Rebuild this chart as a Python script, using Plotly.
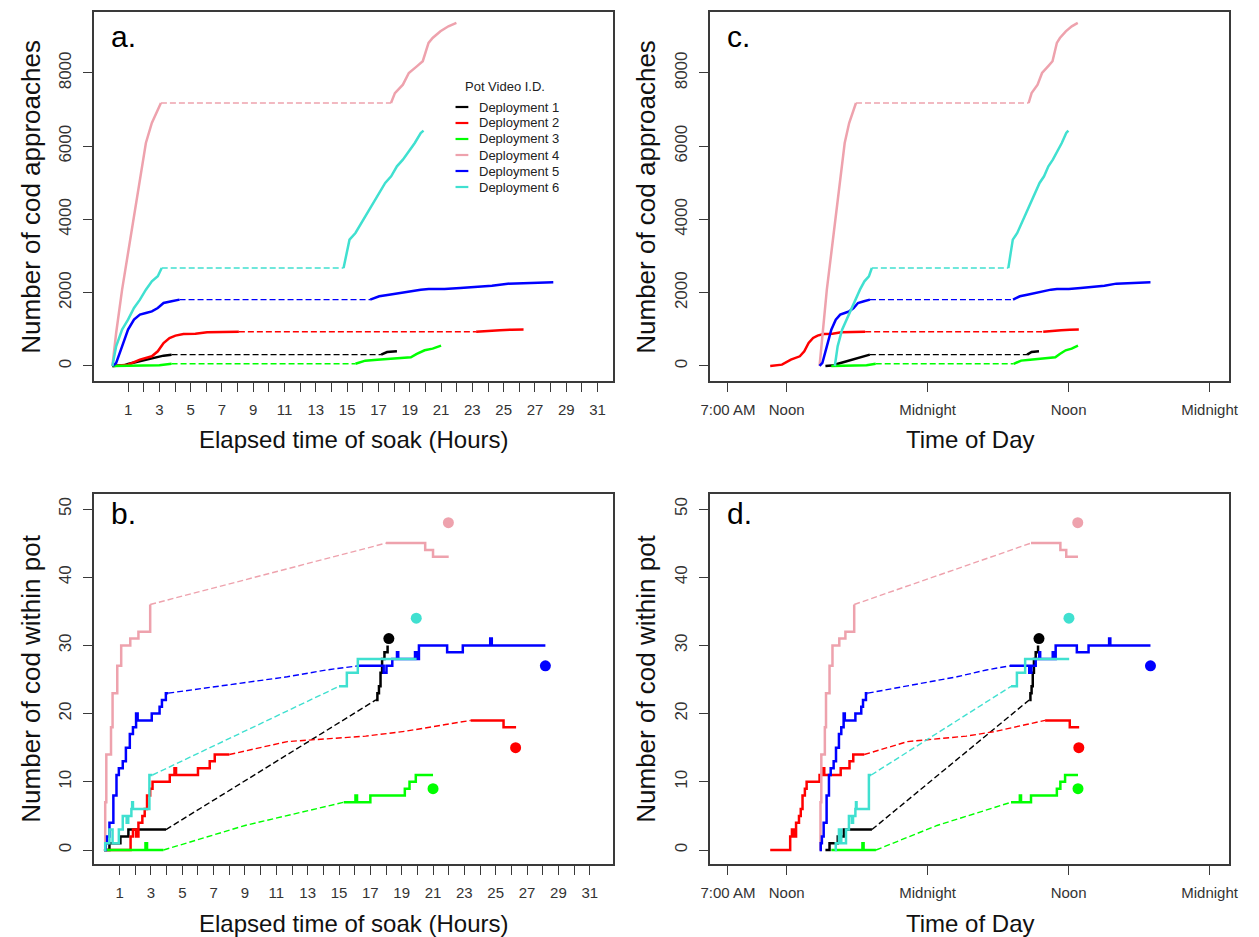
from plotly.subplots import make_subplots
import plotly.graph_objects as go

# deployments
names = ['Deployment 1', 'Deployment 2', 'Deployment 3', 'Deployment 4', 'Deployment 5', 'Deployment 6']
colors = ['#000000', '#FF0000', '#00FF00', '#EEA2AD', '#0000FF', '#40E0D0']
start_hour = [15.3, 10.6, 15.8, 14.8, 14.8, 16.1]   # time of day the pot was set (hours after midnight)

# cumulative cod approaches (elapsed hours, count); gap = dark period drawn dashed
app_h1 = [0, 0.8, 1.0, 1.76, 2.27, 2.77, 3.27, 3.78, 17.17, 17.55, 18.18]
app_v1 = [0, 20, 55, 127, 173, 218, 282, 309, 309, 382, 400]
app_gap1 = [3.78, 17.17]

app_h2 = [0, 0.75, 1.0, 1.76, 2.14, 2.52, 2.9, 3.27, 3.65, 4.03, 4.54, 5.3, 6.05, 7.07, 8.08, 23.24, 24.0, 24.76, 25.51, 26.27]
app_v2 = [0, 20, 36, 173, 218, 264, 400, 628, 764, 828, 874, 880, 919, 930, 935, 935, 946, 974, 992, 995]
app_gap2 = [8.08, 23.24]

app_h3 = [0, 3.0, 3.78, 15.53, 16.16, 16.92, 17.68, 18.31, 19.07, 19.45, 19.95, 20.46, 21.0]
app_v3 = [0, 20, 60, 60, 146, 173, 191, 200, 237, 328, 428, 473, 555]
app_gap3 = [3.78, 15.53]

app_h4 = [0, 0.24, 0.62, 1.0, 1.38, 1.76, 2.14, 2.52, 2.9, 3.1, 17.8, 18.05, 18.56, 18.94, 19.45, 19.83, 20.2, 20.46, 20.96, 21.47, 21.98]
app_v4 = [0, 900, 2084, 3085, 4086, 4996, 6088, 6634, 6998, 7180, 7180, 7450, 7680, 8000, 8180, 8320, 8820, 8955, 9137, 9274, 9365]
app_gap4 = [3.1, 17.8]

app_h5 = [0, 0.24, 0.62, 1.0, 1.38, 1.76, 2.14, 2.52, 2.9, 3.27, 3.78, 4.29, 16.47, 17.05, 17.68, 18.31, 18.94, 19.7, 20.21, 21.22, 22.23, 23.24, 24.25, 25.26, 26.27, 27.03, 28.17]
app_v5 = [0, 82, 537, 992, 1265, 1401, 1447, 1492, 1583, 1720, 1765, 1811, 1811, 1902, 1947, 1993, 2038, 2084, 2102, 2102, 2129, 2157, 2193, 2248, 2266, 2284, 2284]
app_gap5 = [4.29, 16.47]

app_h6 = [0, 0.24, 0.62, 1.0, 1.38, 1.76, 2.14, 2.52, 2.9, 3.15, 14.77, 15.15, 15.53, 15.91, 16.29, 16.67, 17.05, 17.43, 17.81, 18.18, 18.56, 18.94, 19.32, 19.7, 19.88]
app_v6 = [0, 537, 992, 1265, 1583, 1811, 2084, 2311, 2448, 2675, 2675, 3449, 3631, 3904, 4177, 4450, 4723, 4996, 5178, 5451, 5633, 5860, 6088, 6361, 6425]
app_gap6 = [3.15, 14.77]

# number of cod inside the pot (elapsed hours, count)
pot_h1 = [0, 0.35, 1.05, 1.56, 3.96, 17.35, 17.45, 17.55, 17.65, 17.75, 17.9, 18.1]
pot_v1 = [0, 1, 2, 3, 3, 22, 23, 24, 26, 28, 29, 30]
pot_gap1 = [3.96, 17.35]

pot_h2 = [0, 1.7, 1.85, 2.05, 2.2, 2.45, 2.6, 2.75, 2.95, 3.1, 4.2, 4.5, 4.6, 6.0, 6.75, 7.07, 8.0, 11.7, 16.7, 19.2, 21.8, 23.4, 25.5, 26.3]
pot_v2 = [0, 2, 3, 2, 4, 5, 6, 8, 9, 10, 11, 12, 11, 12, 13, 14, 14, 15.9, 16.7, 17.4, 18.4, 19, 18, 18]
pot_gap2 = [8.0, 23.4]

pot_h3 = [0, 2.65, 2.75, 3.8, 9.0, 15.3, 16.05, 16.15, 17.0, 19.2, 19.5, 19.9, 21.0]
pot_v3 = [0, 1, 0, 0, 3.6, 7, 8, 7, 8, 9, 10, 11, 11]
pot_gap3 = [3.8, 15.3]

pot_h4 = [0, 0.08, 0.15, 0.45, 0.55, 0.85, 1.1, 1.68, 2.2, 2.95, 18.0, 20.5, 21.0, 22.0]
pot_v4 = [0, 7, 14, 18, 23, 27, 30, 31, 32, 36, 45, 44, 43, 43]
pot_gap4 = [2.95, 18.0]

pot_h5 = [0, 0.1, 0.2, 0.35, 0.6, 0.8, 0.95, 1.2, 1.4, 1.65, 1.85, 2.05, 2.15, 3.05, 3.55, 3.7, 3.95, 4.1, 7.9, 11.7, 14.2,
          16.2, 17.85, 18.03, 18.4, 18.7, 18.78, 19.85, 19.95, 20.1, 21.9, 22.9, 24.65, 24.75, 28.17]
pot_v5 = [0, 1, 2, 4, 8, 11, 12, 13, 15, 17, 18, 20, 19, 20, 21, 22, 23, 23, 24.2, 25.4, 26.4,
          27, 26, 27, 28, 29, 28, 29, 28, 30, 29, 30, 31, 30, 30]
pot_gap5 = [4.1, 16.2]

pot_h6 = [0, 0.08, 0.35, 0.55, 0.95, 1.2, 1.45, 1.55, 1.75, 1.8, 1.85, 2.9, 3.1, 15.0, 15.5, 16.2, 19.95]
pot_v6 = [0, 1, 3, 1, 3, 5, 4, 5, 6, 7, 6, 11, 11, 24, 26, 28, 28]
pot_gap6 = [3.1, 15.0]

# count of cod in the pot at haul
haul_h = [18.18, 26.27, 21.0, 21.98, 28.17, 19.93]
haul_n = [31, 15, 9, 48, 27, 34]

app_h = [app_h1, app_h2, app_h3, app_h4, app_h5, app_h6]
app_v = [app_v1, app_v2, app_v3, app_v4, app_v5, app_v6]
app_gap = [app_gap1, app_gap2, app_gap3, app_gap4, app_gap5, app_gap6]
pot_h = [pot_h1, pot_h2, pot_h3, pot_h4, pot_h5, pot_h6]
pot_v = [pot_v1, pot_v2, pot_v3, pot_v4, pot_v5, pot_v6]
pot_gap = [pot_gap1, pot_gap2, pot_gap3, pot_gap4, pot_gap5, pot_gap6]

hour_ticks = list(range(1, 32))
hour_text = [str(h) if h % 2 == 1 else '' for h in hour_ticks]
day_ticks = [7, 12, 24, 36, 48]
day_text = ['7:00 AM', 'Noon', 'Midnight', 'Noon', 'Midnight']

FONT = 'Liberation Sans, Arial, sans-serif'
W, H = 1259, 937

fig = make_subplots(rows=2, cols=2, horizontal_spacing=0.05, vertical_spacing=0.05)


def pieces(h, v, gap):
    pre = [(a, b) for a, b in zip(h, v) if a <= gap[0]]
    mid = [(a, b) for a, b in zip(h, v) if gap[0] <= a <= gap[1]]
    post = [(a, b) for a, b in zip(h, v) if a >= gap[1]]
    return pre, mid, post


def add_series(h, v, gap, k, row, col, shape, shift):
    pre, mid, post = pieces(h, v, gap)
    off = start_hour[k] if shift else 0
    for seg, dashed in [(mid, True), (pre, False), (post, False)]:
        fig.add_trace(go.Scatter(x=[p[0] + off for p in seg], y=[p[1] for p in seg], mode='lines',
                                 line=dict(color=colors[k], width=1.4 if dashed else 2.5,
                                           dash='6px,3px' if dashed else 'solid',
                                           shape='linear' if dashed else shape),
                                 name=names[k], showlegend=False, hoverinfo='skip'),
                      row=row, col=col)


for k in range(6):
    add_series(app_h[k], app_v[k], app_gap[k], k, 1, 1, 'linear', False)
    add_series(app_h[k], app_v[k], app_gap[k], k, 1, 2, 'linear', True)
    add_series(pot_h[k], pot_v[k], pot_gap[k], k, 2, 1, 'hv', False)
    add_series(pot_h[k], pot_v[k], pot_gap[k], k, 2, 2, 'hv', True)

for k in range(6):
    fig.add_trace(go.Scatter(x=[haul_h[k]], y=[haul_n[k]], mode='markers',
                             marker=dict(color=colors[k], size=11), showlegend=False), row=2, col=1)
    fig.add_trace(go.Scatter(x=[haul_h[k] + start_hour[k]], y=[haul_n[k]], mode='markers',
                             marker=dict(color=colors[k], size=11), showlegend=False), row=2, col=2)

axis_style = dict(showgrid=False, zeroline=False, showline=True, mirror=True, linecolor='#3a3a3a', linewidth=1.5,
                  ticks='outside', ticklen=9, tickwidth=1.3, tickcolor='#3a3a3a')

xa = [86 / W, 613 / W]
xc = [711 / W, 1238 / W]
ytop = [1 - 381 / H, 1 - 12 / H]
ybot = [1 - 864 / H, 1 - 494 / H]

fig.update_xaxes(axis_style, tickfont=dict(family=FONT, size=15, color='#333333'), ticklabelstandoff=5)
fig.update_yaxes(axis_style, tickfont=dict(family=FONT, size=17, color='#333333'), tickangle=-90, ticklabelstandoff=5)
fig.update_xaxes(domain=xa, range=[-1.19, 32.0], tickvals=hour_ticks, ticktext=hour_text, row=1, col=1)
fig.update_xaxes(domain=xa, range=[-0.65, 32.5], tickvals=hour_ticks, ticktext=hour_text, row=2, col=1)
fig.update_xaxes(domain=xc, range=[5.46, 49.68], tickvals=day_ticks, ticktext=day_text, row=1, col=2)
fig.update_xaxes(domain=xc, range=[5.46, 49.68], tickvals=day_ticks, ticktext=day_text, row=2, col=2)
fig.update_yaxes(domain=ytop, range=[-410, 9664], tickvals=[0, 2000, 4000, 6000, 8000], row=1)
fig.update_yaxes(domain=ybot, range=[-2.05, 52.2], tickvals=[0, 10, 20, 30, 40, 50], row=2)

# axis titles and panel letters
notes = [
    dict(x=349.5, y=440, text='Elapsed time of soak (Hours)', textangle=0, size=24),
    dict(x=349.5, y=923, text='Elapsed time of soak (Hours)', textangle=0, size=24),
    dict(x=975, y=440, text='Time of Day', textangle=0, size=24),
    dict(x=975, y=923, text='Time of Day', textangle=0, size=24),
    dict(x=22, y=197, text='Number of cod approaches', textangle=-90, size=26),
    dict(x=646, y=197, text='Number of cod approaches', textangle=-90, size=26),
    dict(x=22, y=679, text='Number of cod within pot', textangle=-90, size=26),
    dict(x=646, y=679, text='Number of cod within pot', textangle=-90, size=26),
]
for n in notes:
    fig.add_annotation(xref='paper', yref='paper', x=n['x'] / W, y=1 - n['y'] / H, text=n['text'],
                       textangle=n['textangle'], showarrow=False, xanchor='center', yanchor='middle',
                       font=dict(family=FONT, size=n['size'], color='#111111'))

for letter, lx, ly in [('a.', 101, 36), ('b.', 101, 513), ('c.', 726, 36), ('d.', 726, 513)]:
    fig.add_annotation(xref='paper', yref='paper', x=lx / W, y=1 - ly / H, text=letter, showarrow=False,
                       xanchor='left', yanchor='middle', font=dict(family=FONT, size=30, color='#000000'))

# legend box inside panel a (R style: short keys, tight rows)
fig.add_annotation(xref='paper', yref='paper', x=503 / W, y=1 - 87 / H, text='Pot Video I.D.', showarrow=False,
                   xanchor='center', yanchor='middle', font=dict(family=FONT, size=13, color='#222222'))
for k in range(6):
    ly = 107 + 16 * k
    fig.add_shape(type='line', xref='paper', yref='paper', x0=453 / W, x1=466 / W, y0=1 - ly / H, y1=1 - ly / H,
                  line=dict(color=colors[k], width=2.2))
    fig.add_annotation(xref='paper', yref='paper', x=475 / W, y=1 - ly / H, text=names[k], showarrow=False,
                       xanchor='left', yanchor='middle', font=dict(family=FONT, size=13, color='#222222'))

fig.update_layout(
    width=W, height=H, autosize=False,
    margin=dict(l=0, r=0, t=0, b=0),
    paper_bgcolor='white', plot_bgcolor='white',
    font=dict(family=FONT),
    showlegend=False,
)

fig.write_html('out.html', config={'displayModeBar': False},
               post_script="document.body.style.margin='0px';")
